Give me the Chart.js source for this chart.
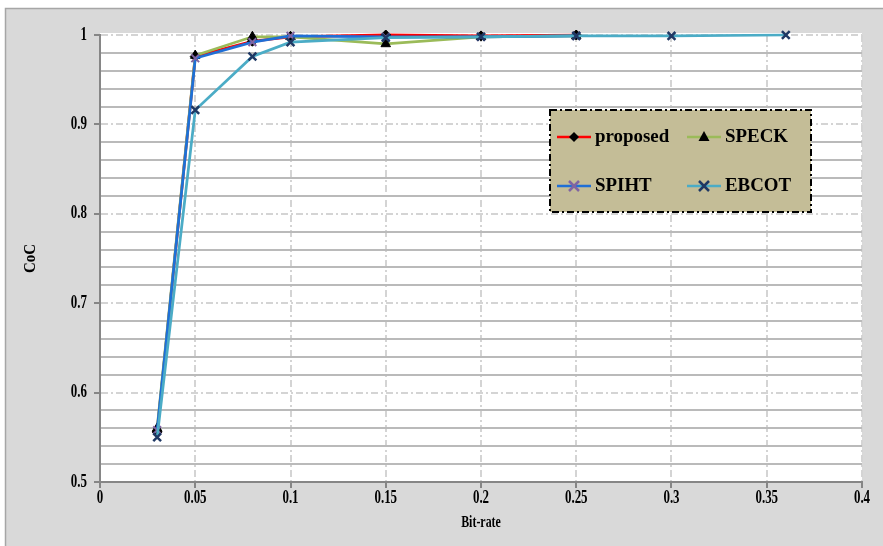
<!DOCTYPE html>
<html>
<head>
<meta charset="utf-8">
<title>CoC x Bit-rate</title>
<script src="https://cdn.jsdelivr.net/npm/chart.js@4.4.0/dist/chart.umd.min.js"></script>
<style>
    html, body { margin: 0; padding: 0; background: #ffffff; }
    #grafico_coc { display: block; }
</style>
</head>
<body>
<canvas id="grafico_coc" width="883" height="546"></canvas>
<script>
// valores
var bit_rates = [0.03, 0.05, 0.08, 0.1, 0.15, 0.2, 0.25, 0.3, 0.36];
var coc_proposed = [0.556, 0.976, 0.993, 0.998, 1.0, 0.999, 1.0, null, null];
var coc_speck = [0.560, 0.977, 0.998, 0.998, 0.990, 0.998, 0.999, null, null];
var coc_spiht = [0.558, 0.974, 0.992, 0.999, 0.998, 0.998, 0.999, null, null];
var coc_ebcot = [0.550, 0.916, 0.976, 0.992, 0.997, 0.998, 0.999, 0.999, 1.0];

var x_ticks = [0, 0.05, 0.1, 0.15, 0.2, 0.25, 0.3, 0.35, 0.4];
var x_tick_labels = ['0', '0.05', '0.1', '0.15', '0.2', '0.25', '0.3', '0.35', '0.4'];
var y_ticks = [0.5, 0.6, 0.7, 0.8, 0.9, 1];
var y_tick_labels = ['0.5', '0.6', '0.7', '0.8', '0.9', '1'];

var fonte = '"Liberation Serif", "Times New Roman", serif';

function pontos(serie) {
    var arr = [];
    for (var i = 0; i < bit_rates.length; i++) {
        if (serie[i] != null) {
            arr.push({ x: bit_rates[i], y: serie[i] });
        }
    }
    return arr;
}

function eh_principal(v) {
    return Math.abs(v * 10 - Math.round(v * 10)) < 1e-6;
}

// texto estreito, parecido com o do Excel
function escrever(ctx, texto, x, y, tam, alinhamento, escala) {
    ctx.save();
    ctx.translate(x, y);
    ctx.scale(escala, 1);
    ctx.font = 'bold ' + tam + 'px ' + fonte;
    ctx.fillStyle = '#000000';
    ctx.textAlign = alinhamento;
    ctx.textBaseline = 'middle';
    ctx.fillText(texto, 0, 0);
    ctx.restore();
}

function marcador(ctx, tipo, x, y, cor) {
    ctx.save();
    ctx.fillStyle = cor;
    ctx.strokeStyle = cor;
    ctx.beginPath();
    if (tipo == 'rectRot') {
        ctx.moveTo(x, y - 5);
        ctx.lineTo(x + 5, y);
        ctx.lineTo(x, y + 5);
        ctx.lineTo(x - 5, y);
        ctx.closePath();
        ctx.fill();
    } else if (tipo == 'triangle') {
        ctx.moveTo(x, y - 6);
        ctx.lineTo(x + 5.5, y + 4);
        ctx.lineTo(x - 5.5, y + 4);
        ctx.closePath();
        ctx.fill();
    } else {
        ctx.lineWidth = 2.5;
        ctx.moveTo(x - 5, y - 5);
        ctx.lineTo(x + 5, y + 5);
        ctx.moveTo(x - 5, y + 5);
        ctx.lineTo(x + 5, y - 5);
        ctx.stroke();
    }
    ctx.restore();
}

var series = [{
    label: 'proposed',
    data: pontos(coc_proposed),
    borderColor: '#ff0000',
    pointStyle: 'rectRot',
    pointRadius: 5,
    pointBackgroundColor: '#000000',
    pointBorderColor: '#000000',
    pointBorderWidth: 1,
    order: 3
}, {
    label: 'SPECK',
    data: pontos(coc_speck),
    borderColor: '#9bbb59',
    pointStyle: 'triangle',
    pointRadius: 5.5,
    pointBackgroundColor: '#000000',
    pointBorderColor: '#000000',
    pointBorderWidth: 1,
    order: 2
}, {
    label: 'SPIHT',
    data: pontos(coc_spiht),
    borderColor: '#1f6fd6',
    pointStyle: 'crossRot',
    pointRadius: 5.5,
    pointBackgroundColor: '#8064a2',
    pointBorderColor: '#8064a2',
    pointBorderWidth: 2,
    order: 1
}, {
    label: 'EBCOT',
    data: pontos(coc_ebcot),
    borderColor: '#4bacc6',
    pointStyle: 'crossRot',
    pointRadius: 5.5,
    pointBackgroundColor: '#1f3864',
    pointBorderColor: '#1f3864',
    pointBorderWidth: 2.5,
    order: 0
}];

for (var i = 0; i < series.length; i++) {
    series[i].borderWidth = 2.75;
    series[i].backgroundColor = series[i].borderColor;
    series[i].tension = 0;
    series[i].clip = false;
}

var fundo = {
    id: 'fundo',
    beforeDraw: function (chart) {
        var ctx = chart.ctx;
        var area = chart.chartArea;
        ctx.save();
        ctx.fillStyle = '#ffffff';
        ctx.fillRect(0, 0, chart.width, chart.height);
        ctx.fillStyle = '#d9d9d9';
        ctx.fillRect(5, 8, chart.width, chart.height);
        ctx.strokeStyle = '#a6a6a6';
        ctx.lineWidth = 1.5;
        ctx.strokeRect(5.5, 8.5, chart.width + 10, chart.height + 10);
        ctx.fillStyle = '#ffffff';
        ctx.fillRect(area.left, area.top - 2, area.right - area.left, area.bottom - area.top + 2);
        ctx.restore();
    }
};

var textos = {
    id: 'textos',
    afterDraw: function (chart) {
        var ctx = chart.ctx;
        var sx = chart.scales.x;
        var sy = chart.scales.y;

        // rotulos dos eixos
        for (var i = 0; i < y_ticks.length; i++) {
            escrever(ctx, y_tick_labels[i], 87, sy.getPixelForValue(y_ticks[i]), 18, 'right', 0.72);
        }
        for (var j = 0; j < x_ticks.length; j++) {
            escrever(ctx, x_tick_labels[j], sx.getPixelForValue(x_ticks[j]), 498, 18, 'center', 0.72);
        }
        escrever(ctx, 'Bit-rate', (sx.left + sx.right) / 2, 523, 17, 'center', 0.7);

        ctx.save();
        ctx.translate(31, (sy.top + sy.bottom) / 2);
        ctx.rotate(-Math.PI / 2);
        escrever(ctx, 'CoC', 0, 0, 17, 'center', 0.88);
        ctx.restore();

        // legenda
        ctx.save();
        ctx.fillStyle = '#c4bd97';
        ctx.fillRect(550, 110, 261, 102);
        ctx.strokeStyle = '#000000';
        ctx.lineWidth = 2;
        ctx.setLineDash([7, 3, 2, 3]);
        ctx.strokeRect(550, 110, 261, 102);
        ctx.restore();

        var posicoes = [[557, 137], [687, 137], [557, 186], [687, 186]];
        for (var k = 0; k < series.length; k++) {
            var px = posicoes[k][0];
            var py = posicoes[k][1];
            ctx.save();
            ctx.strokeStyle = series[k].borderColor;
            ctx.lineWidth = 2.5;
            ctx.beginPath();
            ctx.moveTo(px, py);
            ctx.lineTo(px + 34, py);
            ctx.stroke();
            ctx.restore();
            marcador(ctx, series[k].pointStyle, px + 17, py, series[k].pointBorderColor);
            escrever(ctx, series[k].label, px + 38, py, 18, 'left', 1.05);
        }
    }
};

var ctx = document.getElementById('grafico_coc');

new Chart(ctx, {
    type: 'line',
    data: { datasets: series },
    plugins: [fundo, textos],
    options: {
        responsive: false,
        devicePixelRatio: 1,
        animation: false,
        events: [],
        layout: { padding: { top: 35, right: 21, left: 0, bottom: 0 } },
        plugins: {
            legend: { display: false },
            tooltip: { enabled: false }
        },
        scales: {
            x: {
                type: 'linear',
                min: 0,
                max: 0.4,
                afterFit: function (scale) { scale.height = 64; },
                ticks: { display: false, stepSize: 0.05 },
                grid: {
                    color: '#d4d4d4',
                    lineWidth: 2,
                    drawTicks: true,
                    tickLength: 6,
                    tickColor: '#868686',
                    tickWidth: 2
                },
                border: { color: '#868686', width: 2, dash: [7, 3, 2, 3] }
            },
            y: {
                min: 0.5,
                max: 1,
                afterFit: function (scale) { scale.width = 100; },
                ticks: { display: false, stepSize: 0.02, autoSkip: false },
                grid: {
                    color: function (c) {
                        if (!c.tick) return '#bababa';
                        return eh_principal(c.tick.value) ? '#d4d4d4' : '#bababa';
                    },
                    lineWidth: 2,
                    drawTicks: true,
                    tickLength: 6,
                    tickWidth: 2,
                    tickColor: function (c) {
                        if (!c.tick) return '#868686';
                        return eh_principal(c.tick.value) ? '#868686' : 'rgba(0,0,0,0)';
                    }
                },
                border: {
                    color: '#868686',
                    width: 2,
                    dash: function (c) {
                        if (!c.tick) return [];
                        return eh_principal(c.tick.value) ? [7, 3, 2, 3] : [];
                    }
                }
            }
        }
    }
});
</script>
</body>
</html>
